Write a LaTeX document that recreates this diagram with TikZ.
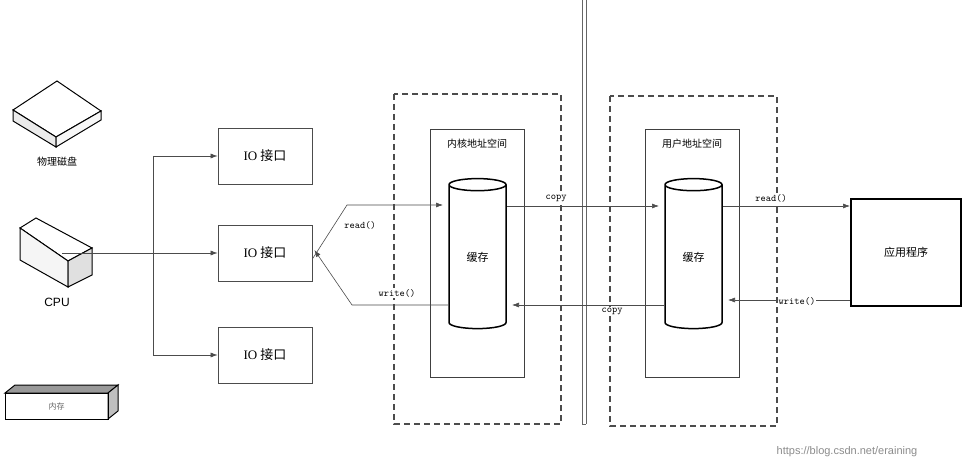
\documentclass[tikz,border=0pt]{standalone}
\usepackage{fontspec}
\setmainfont{Liberation Serif}
\newfontfamily\cjk{Noto Sans CJK SC}
\newfontfamily\sans{Liberation Sans}
\usetikzlibrary{shapes.geometric,arrows.meta}
\begin{document}
\begin{tikzpicture}[x=1pt,y=-1pt,
  box/.style={draw=black!70,line width=0.8pt,minimum width=94pt,minimum height=56pt,inner sep=0pt,font=\cjk\fontsize{13}{13}\selectfont},
  dashbox/.style={draw=black!70,line width=1.3pt,dash pattern=on 6pt off 4pt},
  inner/.style={draw=black!75,line width=1pt},
  cyl/.style={cylinder,shape border rotate=90,draw=black,line width=1.5pt,minimum width=57pt,minimum height=150pt,aspect=0.55,inner sep=0pt,font=\cjk\fontsize{11}{11}\selectfont},
  arr/.style={draw=black!70,line width=0.6pt,-{Latex[length=7pt,width=5pt]}},
  lbl/.style={font=\ttfamily\fontsize{10}{10}\selectfont,fill=white,inner sep=1pt},
  cjkl/.style={font=\cjk\fontsize{10}{10}\selectfont}]
\useasboundingbox (0,0) rectangle (964,470);
\fill[white] (0,0) rectangle (964,470);
% disk
\draw[line width=1pt,fill=white] (13,110) -- (57,81) -- (101,111) -- (56,137) -- cycle;
\draw[line width=1pt,fill=black!8] (13,110) -- (56,137) -- (56,147) -- (13,121) -- cycle;
\draw[line width=1pt,fill=black!3] (56,137) -- (101,111) -- (101,120) -- (56,147) -- cycle;
\node[cjkl] (disk) at (57,162) {物理磁盘};
% cpu
\draw[line width=1pt,fill=white] (20,228) -- (36,218) -- (92,248) -- (68,261) -- cycle;
\draw[line width=1pt,fill=black!4] (20,228) -- (68,261) -- (68,287) -- (20,260) -- cycle;
\draw[line width=1pt,fill=black!12] (68,261) -- (92,248) -- (92,275) -- (68,287) -- cycle;
\node[font=\sans\fontsize{12}{12}\selectfont] (cpul) at (57,302) {CPU};
\coordinate (cpu) at (62,253);
% memory
\draw[line width=1pt,fill=black!40] (5,393) -- (15,385) -- (118,385) -- (108,393) -- cycle;
\draw[line width=1pt,fill=black!25] (108,393) -- (118,385) -- (118,411) -- (108,419) -- cycle;
\node[draw,line width=1pt,minimum width=103pt,minimum height=26pt,inner sep=0pt,font=\cjk\fontsize{8}{8}\selectfont,text=black!60] (mem) at (56.5,406) {内存};
% IO boxes
\node[box] (io1) at (265,156) {\rmfamily IO\ \cjk 接口};
\node[box] (io2) at (265,253) {\rmfamily IO\ \cjk 接口};
\node[box] (io3) at (265,355) {\rmfamily IO\ \cjk 接口};
\coordinate (br1) at (153,156);
\coordinate (br3) at (153,355);
\draw[arr] (cpu) -- (io2.west);
\draw[draw=black!70,line width=0.6pt] (br1) -- (br3);
\draw[arr] (br1) -- (io1.west);
\draw[arr] (br3) -- (io3.west);
% dashed areas
\draw[dashbox] (394,94) rectangle (561,424);
\draw[dashbox] (610,96) rectangle (777,426);
\draw[black!60,line width=0.8pt] (582,0) -- (582,424) (586,0) -- (586,424) (582,424) -- (586,424);
\node[inner,minimum width=94pt,minimum height=247pt] (k) at (477,253.5) {};
\node[inner,minimum width=94pt,minimum height=247pt] (u) at (692,253.5) {};
\node[cjkl,anchor=north] (kt) at ([yshift=-6pt]k.north) {内核地址空间};
\node[cjkl,anchor=north] (ut) at ([yshift=-6pt]u.north) {用户地址空间};
\node[cyl] (c1) at (477.5,257) {缓存};
\node[cyl] (c2) at (693.5,257) {缓存};
% app
\node[draw,line width=2pt,minimum width=110pt,minimum height=107pt,font=\cjk\fontsize{11}{11}\selectfont] (app) at (906,252.5) {应用程序};
% read/write kernel
\coordinate (r1) at (347,205);
\coordinate (w1) at (352,305);
\draw[arr] ([yshift=-6pt]io2.east) -- (r1) -- (443,205);
\draw[arr] (c1.west |- 0,305) -- (w1) -- ([xshift=2pt,yshift=3pt]io2.east);
\node[lbl] (rl1) at (360,225) {read()};
\node[lbl] (wl1) at (397,293) {write()};
% copy
\draw[arr] (c1.east |- 0,206) -- (659,206);
\draw[arr] (c2.west |- 0,305) -- (512,305);
\node[lbl] (cp1) at (556,198) {copy};
\node[lbl] (cp2) at (612,311) {copy};
% user read/write
\draw[arr] (c2.east |- 0,206) -- (app.west |- 0,206);
\draw[arr] (app.west |- 0,300) -- (728,300);
\node[lbl] (rl2) at (771,198) {read()};
\node[lbl] (wl2) at (797,301) {write()};
\node[font=\sans\fontsize{11}{11}\selectfont,text=black!45] (wm) at (847,452) {https://blog.csdn.net/eraining};
\end{tikzpicture}
\end{document}
